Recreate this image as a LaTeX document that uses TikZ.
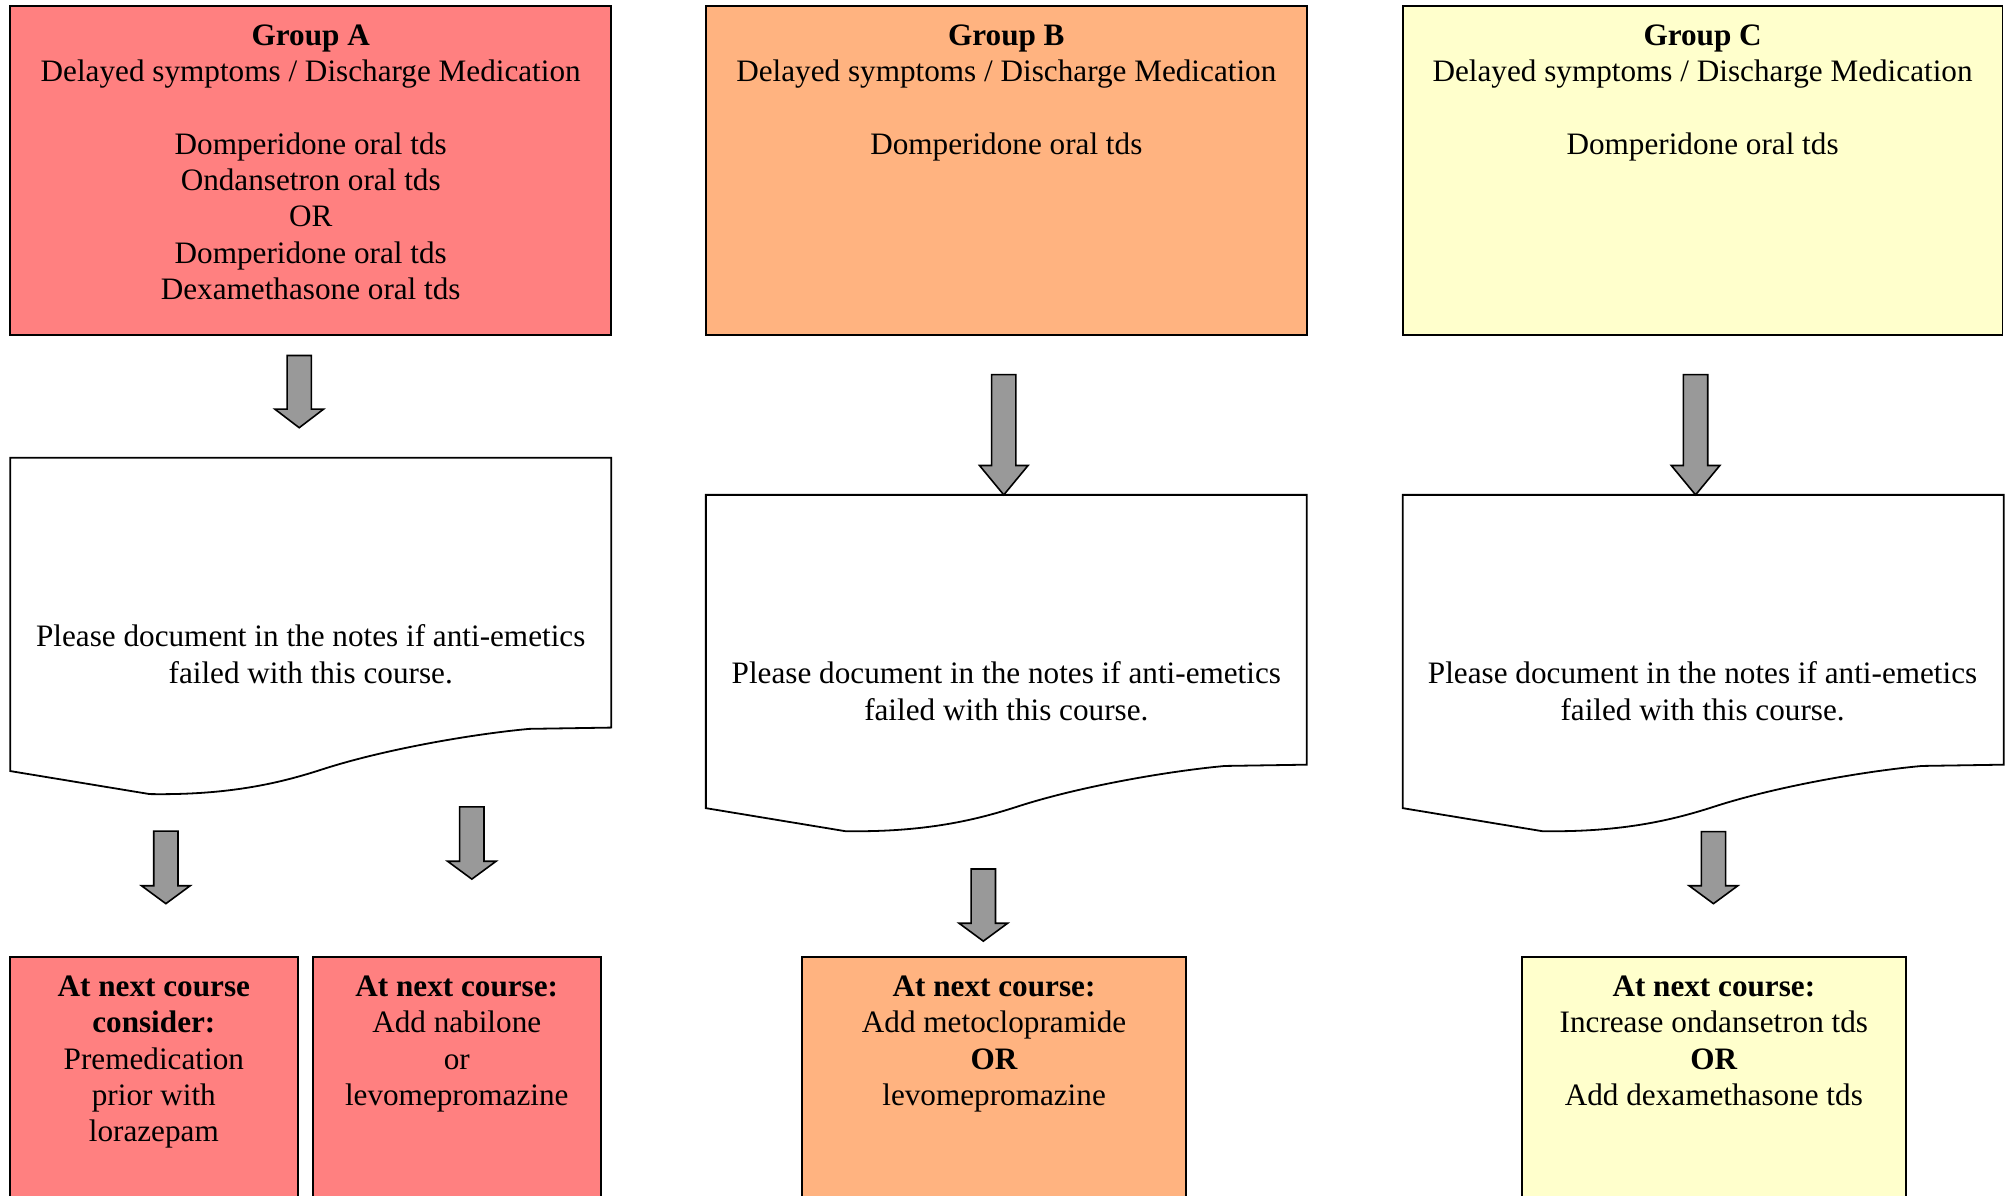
\documentclass[tikz,border=0pt]{standalone}
\usepackage{fontspec}
\setmainfont{Liberation Serif}
\usetikzlibrary{calc}
\definecolor{grpA}{HTML}{FF8080}
\definecolor{grpB}{HTML}{FFB380}
\definecolor{grpC}{HTML}{FFFFCC}
\definecolor{arrowgray}{HTML}{999999}
% block arrow from coordinate #1 (top of shaft) to coordinate #2 (tip), head length #3
\newcommand{\blockarrowx}[3]{%
  \path[blockarr] ($(#1)+(-9.5,0)$) -- ($(#2)+(-9.5,-#3)$) -- ($(#2)+(-19,-#3)$) -- (#2)
    -- ($(#2)+(19,-#3)$) -- ($(#2)+(9.5,-#3)$) -- ($(#1)+(9.5,0)$) -- cycle;}
\begin{document}
\begin{tikzpicture}[x=0.6394pt,y=-0.6394pt,
  boxline/.style={draw=black,line width=0.9pt},
  blockarr/.style={fill=arrowgray,draw=black,line width=0.8pt,line join=miter},
  txt/.style={inner sep=0pt,anchor=north,align=center,font=\fontsize{15.6}{18.12}\selectfont},
]
\useasboundingbox (0,0) rectangle (1568,935);
\clip (0,0) rectangle (1568,935);

% top boxes
\path[boxline,fill=grpA] (8,5) rectangle (478,262);
\path[boxline,fill=grpB] (552,5) rectangle (1022,262);
\path[boxline,fill=grpC] (1097,5) rectangle (1566,262);

\node[txt] (tA) at (243,19.3) {\textbf{Group A}\\Delayed symptoms / Discharge Medication\\[18.12pt]Domperidone oral tds\\Ondansetron oral tds\\OR\\Domperidone oral tds\\Dexamethasone oral tds};
\node[txt] (tB) at (787,19.3) {\textbf{Group B}\\Delayed symptoms / Discharge Medication\\[18.12pt]Domperidone oral tds};
\node[txt] (tC) at (1331.5,19.3) {\textbf{Group C}\\Delayed symptoms / Discharge Medication\\[18.12pt]Domperidone oral tds};

% document shapes
\foreach \dx/\dy in {0/0, 544/29, 1089/29}{
  \path[boxline,fill=white] (8+\dx,358+\dy) -- (478+\dx,358+\dy) -- (478+\dx,569+\dy) -- (414+\dx,570+\dy)
    .. controls (370+\dx,574+\dy) and (300+\dx,586+\dy) .. (251+\dx,602+\dy)
    .. controls (220+\dx,612+\dy) and (180+\dx,622+\dy) .. (117+\dx,621+\dy)
    -- (8+\dx,603+\dy) -- cycle;
}
\node[txt] (dA) at (243,488.3) {Please document in the notes if anti-emetics\\failed with this course.};
\node[txt] (dB) at (787,517.3) {Please document in the notes if anti-emetics\\failed with this course.};
\node[txt] (dC) at (1331.5,517.3) {Please document in the notes if anti-emetics\\failed with this course.};

% bottom boxes
\path[boxline,fill=grpA] (8,748.5) rectangle (233,960);
\path[boxline,fill=grpA] (244.5,748.5) rectangle (470,960);
\path[boxline,fill=grpB] (627,748.5) rectangle (927.5,960);
\path[boxline,fill=grpC] (1190,748.5) rectangle (1490.5,960);

\node[txt] (bA1) at (120.3,763) {\textbf{At next course}\\\textbf{consider:}\\Premedication\\prior with\\lorazepam};
\node[txt] (bA2) at (357.2,763) {\textbf{At next course:}\\Add nabilone\\or\\levomepromazine};
\node[txt] (bB) at (777.4,763) {\textbf{At next course:}\\Add metoclopramide\\\textbf{OR}\\levomepromazine};
\node[txt] (bC) at (1340.3,763) {\textbf{At next course:}\\Increase ondansetron tds\\\textbf{OR}\\Add dexamethasone tds};

% arrows
\coordinate (a1s) at (234,278);   \coordinate (a1e) at (234,334.5);
\coordinate (b1s) at (785,293);   \coordinate (b1e) at (785,387);
\coordinate (c1s) at (1326,293);  \coordinate (c1e) at (1326,387);
\coordinate (a2s) at (129.7,650); \coordinate (a2e) at (129.7,706.7);
\coordinate (a3s) at (369,631);   \coordinate (a3e) at (369,687.5);
\coordinate (b2s) at (769,679.6); \coordinate (b2e) at (769,736);
\coordinate (c2s) at (1340,650.4);\coordinate (c2e) at (1340,706.7);
\blockarrowx{a1s}{a1e}{14.5}
\blockarrowx{b1s}{b1e}{23}
\blockarrowx{c1s}{c1e}{23}
\blockarrowx{a2s}{a2e}{14}
\blockarrowx{a3s}{a3e}{14}
\blockarrowx{b2s}{b2e}{14}
\blockarrowx{c2s}{c2e}{14}
\end{tikzpicture}
\end{document}
